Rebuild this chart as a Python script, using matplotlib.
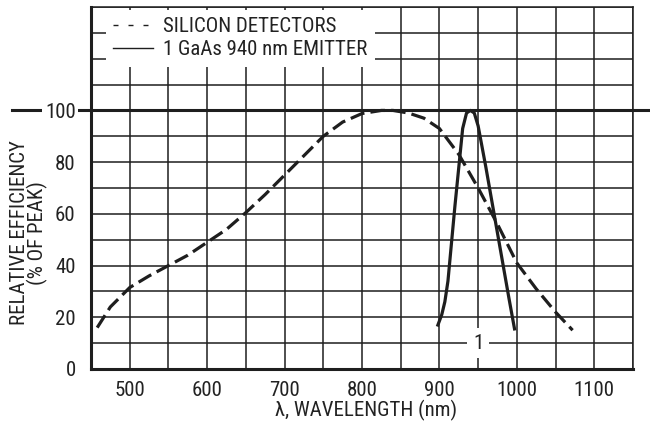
import numpy as np
import matplotlib.pyplot as plt
from matplotlib.lines import Line2D

plt.rcParams['font.family'] = ['Roboto Condensed', 'Liberation Sans', 'DejaVu Sans']

# silicon detector response (dashed)
si_nm = [458, 475, 500, 525, 550, 575, 600, 625, 650, 675, 700, 725, 750,
         775, 800, 825, 840, 860, 880, 900, 925, 950, 975, 1000, 1025, 1050, 1072]
si_eff = [16, 24, 31.5, 36, 40, 44, 49, 54, 60.5, 67.5, 75, 82.5, 90,
          95.5, 98.8, 100, 100, 99, 97, 93, 83, 70, 56, 41, 31, 22, 15]

# GaAs 940 nm emitter spectrum (solid)
ir_nm = [898, 903, 907, 911, 920, 930, 935, 940, 945, 950, 960, 970, 980, 990, 997]
ir_eff = [17, 21, 26, 34, 63, 93, 99, 100, 99, 94, 78, 61, 44, 27, 15.5]

xticks = [500, 600, 700, 800, 900, 1000, 1100]
yticks = [0, 20, 40, 60, 80, 100]

ink = '#1e1e1e'
txt = '#222222'
fig = plt.figure(figsize=(6.5, 4.26), dpi=100)
ax = fig.add_axes([91/650, 1 - 369/426, (633 - 91)/650, (369 - 7)/426])

ax.set_xlim(450, 1150)
ax.set_ylim(0, 140)
ax.set_xticks(xticks)
ax.set_yticks(yticks)
ax.set_xticks(np.arange(450, 1151, 50), minor=True)
ax.set_yticks(np.arange(0, 141, 10), minor=True)
ax.grid(which='both', color=ink, lw=1.1)
ax.tick_params(which='both', length=0, labelsize=15, colors=txt)
ax.tick_params(axis='x', pad=9)
ax.tick_params(axis='y', pad=11)
ax.set_axisbelow(False)

for side in ['left', 'bottom']:
    ax.spines[side].set_linewidth(2.2)
    ax.spines[side].set_color(ink)
for side in ['top', 'right']:
    ax.spines[side].set_linewidth(1.1)
    ax.spines[side].set_color(ink)

# 100 % reference line runs past both sides of the grid
ax.plot([348, 1175], [100, 100], color=ink, lw=2.2, clip_on=False, zorder=2)
for lab in ax.get_yticklabels():
    if lab.get_text() == '100':
        lab.set_bbox(dict(facecolor='white', edgecolor='none', pad=2))

ax.plot(si_nm, si_eff, color=ink, lw=2.3, dashes=(4.6, 1.9), zorder=3)
ax.plot(ir_nm, ir_eff, color=ink, lw=2.3, zorder=3)

ax.text(950, 10, '1', ha='center', va='center', fontsize=15, color=txt,
        bbox=dict(facecolor='white', edgecolor='none', pad=4), zorder=4)

handles = [Line2D([], [], color=ink, lw=1.0, dashes=(3.6, 7.2)),
           Line2D([], [], color=ink, lw=1.0)]
leg = ax.legend(handles, ['SILICON DETECTORS', '1 GaAs 940 nm EMITTER'],
                loc='upper left', bbox_to_anchor=(0.028, 0.992), borderaxespad=0,
                fontsize=15, handlelength=1.9, handletextpad=0.5,
                labelspacing=0.2, borderpad=0.35, frameon=True,
                fancybox=False, framealpha=1, edgecolor='none', facecolor='white')
for t in leg.get_texts():
    t.set_color(txt)

fig.text(29/650, 1 - 233/426, 'RELATIVE EFFICIENCY\n(% OF PEAK)', rotation=90,
         ha='center', va='center', fontsize=15, linespacing=0.85, color=txt)
fig.text(366/650, 1 - 410/426, 'λ, WAVELENGTH (nm)', ha='center', va='center',
         fontsize=15, color=txt)

fig.savefig('out.png', dpi=100)
